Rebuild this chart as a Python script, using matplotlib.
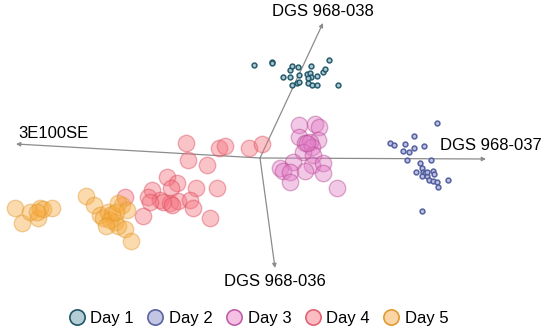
import matplotlib.pyplot as plt
from matplotlib.lines import Line2D

plt.rcParams['font.family'] = ['Liberation Sans', 'DejaVu Sans']

# Score positions (pixel-like coordinates, y downwards)
day1_x = [254, 272, 272, 283, 290, 290, 292, 298, 299, 292, 297, 299, 307, 310, 311, 311, 317, 308, 312, 317, 323, 325, 329, 338, 308]
day1_y = [65, 62, 63, 77, 77, 70, 66, 67, 75, 85, 83, 82, 74, 73, 77, 66, 76, 83, 85, 85, 72, 69, 60, 85, 78]

day2_x = [437, 414, 390, 394, 405, 403, 409, 414, 424, 407, 431, 420, 422, 416, 423, 425, 433, 434, 422, 427, 429, 433, 437, 438, 448, 422, 427]
day2_y = [123, 136, 143, 145, 144, 151, 152, 148, 146, 160, 160, 163, 168, 172, 172, 173, 171, 174, 176, 176, 180, 181, 182, 187, 180, 211, 172]

day3_x = [299, 315, 319, 299, 318, 305, 310, 312, 303, 313, 293, 312, 323, 280, 283, 290, 305, 323, 290, 337, 307]
day3_y = [125, 124, 127, 137, 140, 143, 142, 147, 152, 155, 162, 165, 163, 168, 171, 172, 171, 173, 182, 188, 143]

day4_x = [186, 188, 207, 219, 225, 249, 262, 167, 177, 171, 196, 217, 152, 148, 160, 170, 178, 190, 193, 163, 150, 143, 210, 172, 125]
day4_y = [143, 160, 165, 148, 146, 148, 144, 177, 183, 188, 188, 188, 190, 197, 200, 203, 201, 200, 208, 202, 202, 216, 218, 205, 197]

day5_x = [15, 22, 30, 38, 40, 43, 52, 37, 86, 94, 100, 103, 108, 112, 115, 118, 125, 131, 122, 118, 127, 110, 106, 116]
day5_y = [208, 223, 212, 218, 208, 209, 208, 212, 196, 205, 215, 218, 212, 214, 222, 226, 229, 241, 205, 203, 210, 220, 226, 212]

# Loading arrows: origin and tips
origin = (260, 158)
arrow_names = ['DGS 968-038', '3E100SE', 'DGS 968-037', 'DGS 968-036']
arrow_tips = [(323, 23), (16, 144), (486, 159), (275, 268)]

groups = [
    ('Day 1', day1_x, day1_y, '#a9c6cf', '#1f5568', 12),
    ('Day 2', day2_x, day2_y, '#b9bee0', '#4f5a9c', 12),
    ('Day 3', day3_x, day3_y, '#e27cc6', '#b3428f', 140),
    ('Day 4', day4_x, day4_y, '#f5707e', '#d94b5c', 140),
    ('Day 5', day5_x, day5_y, '#f7aa3c', '#e0952a', 140),
]

fig = plt.figure(figsize=(5.5, 3.29), dpi=100)
ax = fig.add_axes([0, 0, 1, 1])
ax.set_xlim(0, 550)
ax.set_ylim(329, 0)
ax.axis('off')

for tip in arrow_tips:
    ax.annotate('', xy=tip, xytext=origin,
                arrowprops=dict(arrowstyle='-|>', color='#8c8c8c', lw=0.9,
                                mutation_scale=6, shrinkA=0, shrinkB=0))

for name, xs, ys, face, edge, s in groups:
    if s > 50:
        ax.scatter(xs, ys, s=s, facecolors=face, edgecolors=edge,
                   alpha=0.42, linewidths=1.0, zorder=3)
    else:
        ax.scatter(xs, ys, s=s, facecolors=face, edgecolors=edge,
                   alpha=0.95, linewidths=1.1, zorder=3)

ax.text(323, 12, arrow_names[0], ha='center', va='center', fontsize=12)
ax.text(18, 134, arrow_names[1], ha='left', va='center', fontsize=12)
ax.text(440, 145, arrow_names[2], ha='left', va='center', fontsize=12)
ax.text(275, 281, arrow_names[3], ha='center', va='center', fontsize=12)

legend_faces = ['#b4cdd4', '#c2c6e2', '#f4c0e4', '#fbbcc2', '#fbd6a4']
legend_edges = ['#1f5568', '#5a64a0', '#c060a8', '#e06472', '#e09a34']
handles = [Line2D([], [], marker='o', linestyle='', markersize=11,
                  markerfacecolor=f, markeredgecolor=e, markeredgewidth=1.2)
           for f, e in zip(legend_faces, legend_edges)]
ax.legend(handles, [g[0] for g in groups], loc='lower center',
          bbox_to_anchor=(0.47, -0.035), ncol=5, frameon=False, fontsize=12,
          handlelength=1.0, handletextpad=0.3, columnspacing=0.8)

fig.savefig('out.png', dpi=100)
